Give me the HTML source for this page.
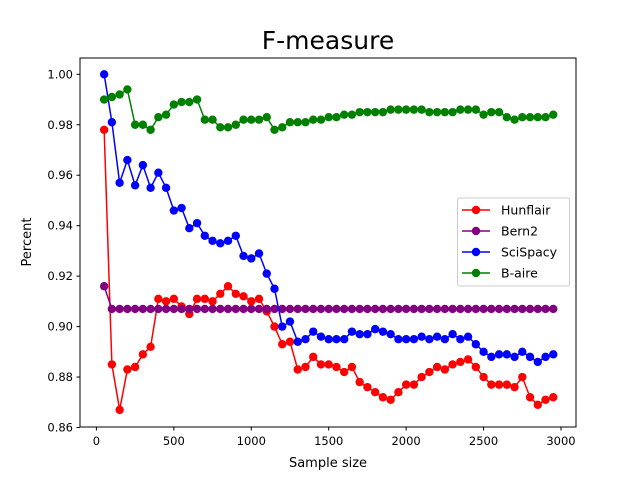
<!DOCTYPE html>
<html><head><meta charset="utf-8"><style>
body{margin:0;background:#fff;}
svg{display:block;font-family:"DejaVu Sans","Liberation Sans",sans-serif;}
</style></head><body>
<svg id="chart" width="640" height="480">
<text x="328" y="49" font-size="25" text-anchor="middle" fill="#000">F-measure</text>
<g id="marks"></g>
<rect x="80" y="58" width="496" height="369" fill="none" stroke="#000" stroke-width="1"/>
<g id="axes"></g>
<text x="328" y="467" font-size="13" text-anchor="middle">Sample size</text>
<text transform="translate(31,242) rotate(-90)" font-size="13" text-anchor="middle">Percent</text>
<g id="legend"></g>
</svg>
<script>
const seriesNames = ["Hunflair","Bern2","SciSpacy","B-aire"];
const seriesColors = ["#ff0000","#800080","#0000ff","#008000"];
const xStep = 50;
const hunflair = [0.978,0.885,0.867,0.883,0.884,0.889,0.892,0.911,0.910,0.911,0.908,0.905,0.911,0.911,0.910,0.913,0.916,0.913,0.912,0.910,0.911,0.906,0.900,0.893,0.894,0.883,0.884,0.888,0.885,0.885,0.884,0.882,0.884,0.878,0.876,0.874,0.872,0.871,0.874,0.877,0.877,0.880,0.882,0.884,0.883,0.885,0.886,0.887,0.884,0.880,0.877,0.877,0.877,0.876,0.880,0.872,0.869,0.871,0.872];
const bern2 = [0.916,0.907,0.907,0.907,0.907,0.907,0.907,0.907,0.907,0.907,0.907,0.907,0.907,0.907,0.907,0.907,0.907,0.907,0.907,0.907,0.907,0.907,0.907,0.907,0.907,0.907,0.907,0.907,0.907,0.907,0.907,0.907,0.907,0.907,0.907,0.907,0.907,0.907,0.907,0.907,0.907,0.907,0.907,0.907,0.907,0.907,0.907,0.907,0.907,0.907,0.907,0.907,0.907,0.907,0.907,0.907,0.907,0.907,0.907];
const scispacy = [1.000,0.981,0.957,0.966,0.956,0.964,0.955,0.961,0.955,0.946,0.947,0.939,0.941,0.936,0.934,0.933,0.934,0.936,0.928,0.927,0.929,0.921,0.915,0.900,0.902,0.894,0.895,0.898,0.896,0.895,0.895,0.895,0.898,0.897,0.897,0.899,0.898,0.897,0.895,0.895,0.895,0.896,0.895,0.896,0.895,0.897,0.895,0.896,0.893,0.890,0.888,0.889,0.889,0.888,0.890,0.888,0.886,0.888,0.889];
const baire = [0.990,0.991,0.992,0.994,0.980,0.980,0.978,0.983,0.984,0.988,0.989,0.989,0.990,0.982,0.982,0.979,0.979,0.980,0.982,0.982,0.982,0.983,0.978,0.979,0.981,0.981,0.981,0.982,0.982,0.983,0.983,0.984,0.984,0.985,0.985,0.985,0.985,0.986,0.986,0.986,0.986,0.986,0.985,0.985,0.985,0.985,0.986,0.986,0.986,0.984,0.985,0.985,0.983,0.982,0.983,0.983,0.983,0.983,0.984];
const xTicks = [0,500,1000,1500,2000,2500,3000];
const yTicks = [0.86,0.88,0.90,0.92,0.94,0.96,0.98,1.00];
const allSeries = [hunflair,bern2,scispacy,baire];

const NS="http://www.w3.org/2000/svg";
function xs(v){return 96.4 + v*0.15487;}
function ys(v){return 74.3 + (1.0 - v)*2523;}
function mk(t,a){const e=document.createElementNS(NS,t);for(const k in a)e.setAttribute(k,a[k]);return e;}

const axes=document.getElementById('axes');
xTicks.forEach(t=>{
  const x=xs(t);
  const l=mk('line',{x1:x,x2:x,y1:427,y2:430.5,stroke:'#000'});
  
  
  axes.appendChild(l);
  const tx=mk('text',{x:x,y:445,'font-size':'11.5','text-anchor':'middle'});
  tx.textContent=t;
  
  
  axes.appendChild(tx);
});
yTicks.forEach(t=>{
  const y=ys(t);
  const l=mk('line',{x1:76.5,x2:80,y1:y,y2:y,stroke:'#000'});
  
  
  axes.appendChild(l);
  const tx=mk('text',{x:73,y:y+4,'font-size':'11.5','text-anchor':'end'});
  tx.textContent=t.toFixed(2);
  
  
  axes.appendChild(tx);
});

const marks=document.getElementById('marks');
allSeries.forEach((s,si)=>{
  const g=mk('g',{});
  
  
  const pts=s.map((v,i)=>xs((i+1)*xStep)+','+ys(v)).join(' ');
  const pl=mk('polyline',{points:pts,fill:'none',stroke:seriesColors[si],'stroke-width':1.5});
  
  
  g.appendChild(pl);
  s.forEach((v,i)=>{
    const c=mk('circle',{cx:xs((i+1)*xStep),cy:ys(v),r:4.2,fill:seriesColors[si]});
    
    
    g.appendChild(c);
  });
  marks.appendChild(g);
});

const lg=document.getElementById('legend');
const box=mk('rect',{x:457.5,y:198,width:112,height:88,rx:2,fill:'#fff','fill-opacity':0.8,stroke:'#ccc'});


lg.appendChild(box);
seriesNames.forEach((n,i)=>{
  const y=210+i*21;
  const g=mk('g',{});
  
  
  g.appendChild(mk('line',{x1:462,x2:490,y1:y,y2:y,stroke:seriesColors[i],'stroke-width':1.5}));
  g.appendChild(mk('circle',{cx:476,cy:y,r:4.2,fill:seriesColors[i]}));
  const t=mk('text',{x:501,y:y+4.5,'font-size':'12.5'});
  t.textContent=n;
  g.appendChild(t);
  lg.appendChild(g);
});
</script>
</body></html>
